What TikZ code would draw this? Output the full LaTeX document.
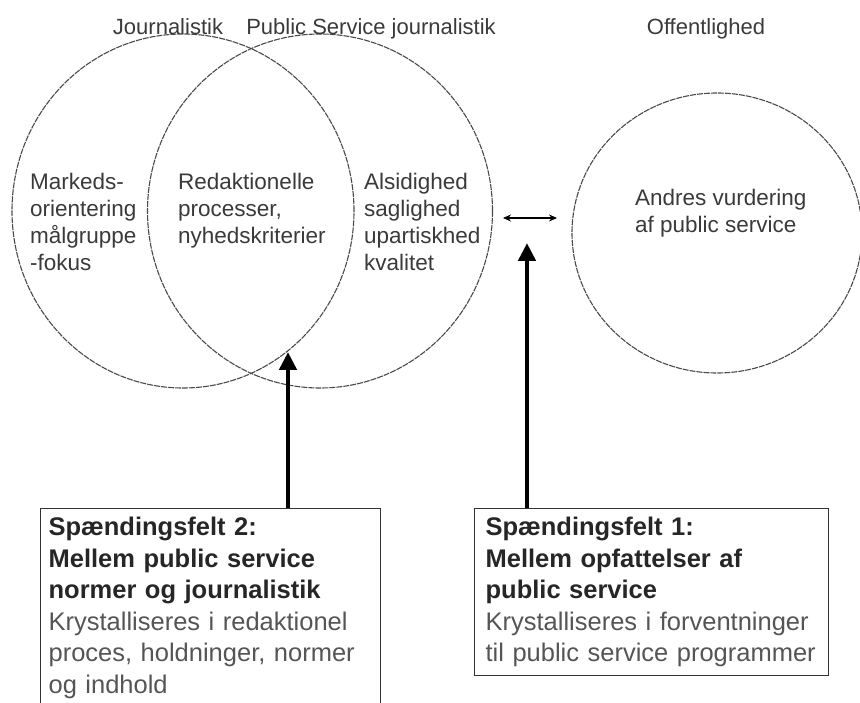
\documentclass[tikz,border=0pt]{standalone}
\usepackage{fontspec}
\setmainfont{Liberation Sans}
\usepackage{xcolor}
\usepackage{tikz}
\usetikzlibrary{positioning,shapes.geometric,arrows.meta}

\definecolor{circlegray}{HTML}{4A4A4A}
\definecolor{textgray}{HTML}{3A3A3A}
\definecolor{boxgray}{HTML}{555555}

\tikzset{
  venn/.style={ellipse, draw=circlegray, line width=1.1pt, dash pattern=on 6pt off 1pt, inner sep=0pt},
  circtext/.style={anchor=north west, inner sep=0pt, align=left, text=textgray, font=\fontsize{22.5}{27}\selectfont},
  headtext/.style={anchor=base, inner sep=0pt, text=textgray, font=\fontsize{22}{27}\selectfont},
  fieldbox/.style={draw=black!80, line width=1.2pt, anchor=north west, align=left, inner ysep=8.5pt, text=black!85, font=\fontsize{25.5}{31.5}\selectfont},
  bigarrow/.style={line width=4.5pt, -{Triangle[width=17pt,length=18pt]}},
  smallarrow/.style={line width=1.3pt, {Stealth[length=8pt,width=7pt]}-{Stealth[length=8pt,width=7pt]}}
}

\begin{document}
\begin{tikzpicture}[x=1pt,y=-1pt]
  \useasboundingbox (0,0) rectangle (860,703);
  \clip (0,0) rectangle (860,703);

  % the three circles
  \node (journ) [venn, minimum width=342pt, minimum height=354pt] at (183,211) {};
  \node (ps) [venn, minimum width=345pt, minimum height=354pt] at (320,211) {};
  \node (offentlig) [venn, minimum width=290pt, minimum height=280pt] at (717,233) {};

  % headings
  \node (journhead) [headtext] at (168,35) {Journalistik};
  \node (pshead) [headtext] at (371,35) {Public Service journalistik};
  \node (offhead) [headtext] at (706,35) {Offentlighed};

  % texts inside the circles
  \node (marked) [circtext] at (30,173) {Markeds-\\orientering\\målgruppe\\-fokus};
  \node (redak) [circtext] at (178,173) {Redaktionelle\\processer,\\nyhedskriterier};
  \node (alsid) [circtext] at (364,173) {Alsidighed\\saglighed\\upartiskhed\\kvalitet};
  \node (andres) [circtext] at (635,189) {Andres vurdering\\af public service};

  % the two fields
  \node (field2) [fieldbox, text width=324pt, inner xsep=8pt] at (40,508)
    {\textbf{Spændingsfelt 2:}\\
     \textbf{Mellem public service}\\
     \textbf{normer og journalistik}\\
     \textcolor{boxgray}{Krystalliseres i redaktionel}\\
     \textcolor{boxgray}{proces, holdninger, normer}\\
     \textcolor{boxgray}{og indhold}};
  \node (field1) [fieldbox, text width=332pt, inner xsep=11pt, minimum height=167pt] at (474,508)
    {\textbf{Spændingsfelt 1:}\\
     \textbf{Mellem opfattelser af}\\
     \textbf{public service}\\
     \textcolor{boxgray}{Krystalliseres i forventninger}\\
     \textcolor{boxgray}{til public service programmer}};

  % arrows
  \coordinate (tip2) at (288,352);
  \coordinate (tip1) at (527,243);
  \coordinate (linkL) at (503,218);
  \coordinate (linkR) at (557,218);
  \draw[bigarrow] (field2.north -| tip2) -- (tip2);
  \draw[bigarrow] (field1.north -| tip1) -- (tip1);
  \draw[smallarrow] (linkL) -- (linkR);
\end{tikzpicture}
\end{document}
